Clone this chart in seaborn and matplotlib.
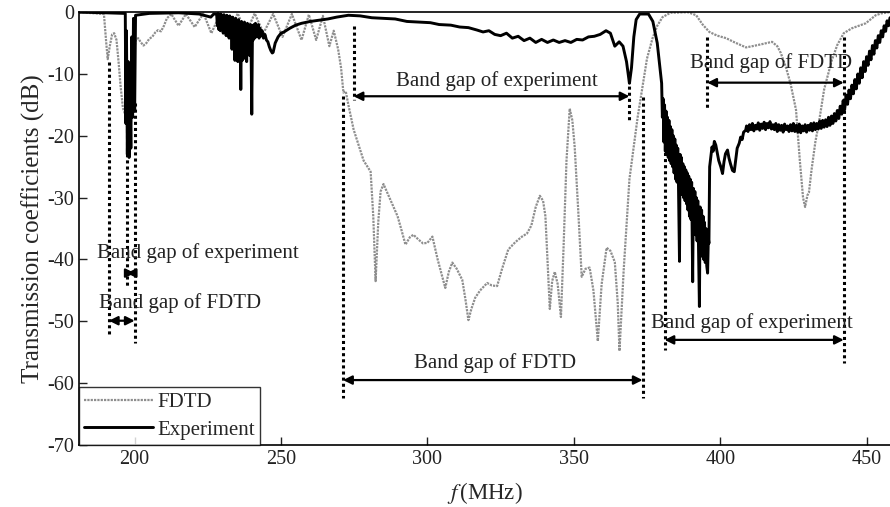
import numpy as np
import pandas as pd
import seaborn as sns
import matplotlib.pyplot as plt

# FDTD simulation (gray)
fdtd_f = [181, 189.5, 190.3, 190.8, 191.5, 192.3, 193, 193.8, 194.5, 195.2, 196, 196.8, 197.5,
          198.3, 199, 199.7, 200.3, 201.2, 202, 203, 204, 205, 206, 207, 208, 209, 210, 211,
          212.5, 215, 217.5, 220.5, 223.5, 226.2, 229.3, 232.3, 235.2, 238, 241, 244, 247.3,
          250.5, 253.7, 257, 259.5, 262, 264.3, 266.5, 268, 269.5, 270.5, 271.3, 272.1, 273,
          274.8, 276.5, 278.2, 280.6, 281.5, 282.3, 283.2, 284, 285, 287.5, 289.8, 291, 292.5,
          294, 295.2, 297, 298.5, 300, 301.7, 303.5, 306.1, 307.3, 308.5, 310, 311.9, 313, 314,
          315, 316.3, 318, 320.4, 322, 323.8, 325.5, 327.6, 330, 332.3, 334, 335.5, 337, 338.4,
          339.5, 340.3, 341, 341.8, 342.6, 343.5, 344.5, 345.6, 346.5, 347.5, 348.6, 349.5,
          350.3, 351.5, 352.7, 354, 355.4, 356.7, 358.2, 359.5, 361.2, 362.5, 364, 365, 365.6,
          367, 369, 371.8, 373.5, 375, 376.9, 378.5, 380.3, 383, 389, 391.8, 394, 396.3, 399,
          402, 405, 408.8, 411, 414, 417.7, 419.5, 420.7, 422.5, 424, 425.9, 427.2, 428.3, 429,
          429.8, 430.3, 431.2, 432.5, 433.7, 435.5, 438.1, 440, 442.2, 445, 449.7, 453.1, 455, 458]
fdtd_db = [0, -0.3, -5, -7.6, -5.5, -3.6, -3.4, -4.5, -8, -12, -15.5, -16.6, -17,
           -16, -12, -7, -4.6, -4.2, -4.8, -5.4, -5, -4.3, -4.0, -3.3, -2.9, -3.1, -2.2, -1.0,
           -0.3, -2.2, -0.3, -2.4, -0.2, -3.4, -0.2, -3.5, -0.2, -3.4, -0.2, -3.4, -0.3,
           -4.0, -0.3, -4.5, -0.4, -4.5, -0.6, -5.5, -3.0, -6, -9, -13, -12.8, -15,
           -19, -21.5, -24, -25.8, -33, -43.5, -34, -29, -27.8, -30.5, -33, -35, -37.6,
           -36.4, -36, -36.8, -37.4, -37.3, -36.3, -40, -44.6, -42, -40.5, -41.5, -43.3, -46.5, -49.8,
           -48, -46.2, -45, -43.8, -44.2, -44.3, -41.5, -38.4, -37.2, -36.3, -35.8, -34.5, -31.5, -29.7,
           -30.5, -33, -40, -48, -43.5, -42, -44, -49.3, -38, -24, -15.6, -17.5,
           -21.8, -32, -42.8, -41.5, -41.3, -45, -53.2, -44, -38.1, -38.6, -40.4, -47, -54.8,
           -42, -27, -17, -12, -7.5, -4.2, -2.2, -0.8, -0.1, 0, -0.5, -2, -3.2, -3.8,
           -4.2, -4.9, -5.7, -5.5, -5.2, -4.8, -5.5, -6.6, -9, -11.5, -15.8, -24, -30, -31.5,
           -29.6, -29.2, -25.5, -21, -17.9, -12.5, -7.8, -5.3, -3.4, -2.6, -1.8, -0.5, -0.2, 0]

# measured (black), in pieces
exp_f_low = [181, 190, 196.8, 197.0, 197.2, 197.5, 197.8, 198.1, 198.4, 198.7, 199.0, 199.3,
             199.6, 200.0, 200.3, 205, 215, 222, 226, 227]
exp_db_low = [0, -0.1, -0.2, -18, -3, -23, -8, -23.5, -12, -22, -4, -17,
              -1, -16, -0.5, -0.2, -0.1, -0.3, -0.8, -0.3]

exp_f_noise1 = [228.0, 228.25, 228.5, 228.75, 229.0, 229.25, 229.5, 229.75, 230.0, 230.25, 230.5,
                230.75, 231.0, 231.25, 231.5, 231.75, 232.0, 232.25, 232.5, 232.75, 233.0, 233.25,
                233.5, 233.75, 234.0, 234.25, 234.5, 234.75, 235.0, 235.25, 235.5, 235.75, 236.0,
                236.25, 236.5, 236.75, 237.0, 237.25, 237.5, 237.75, 238.0, 238.25, 238.5, 238.75,
                239.0, 239.25, 239.5, 239.75, 240.0, 240.25, 240.5, 240.75, 241.0, 241.25, 241.5,
                241.75, 242.0, 242.25, 242.5, 242.75, 243.0, 243.5, 244.0, 244.5, 245.0, 245.5,
                246.0, 246.5, 247.0, 247.3]
exp_db_noise1 = [-0.3, -2.2, -0.2, -2.8, -0.5, -3.0, -0.3, -2.6, -0.6, -3.4, -0.4,
                 -3.1, -0.8, -3.8, -0.5, -3.3, -0.9, -4.2, -0.6, -3.6, -1.0, -6.0,
                 -0.8, -5.5, -1.2, -7.8, -1.0, -7.2, -1.5, -8.0, -1.2, -7.5, -1.8,
                 -12.5, -1.5, -7.8, -2.0, -7.5, -1.6, -6.8, -2.2, -8.0, -1.8, -6.2,
                 -2.4, -7.0, -2.0, -5.5, -16.5, -2.2, -4.5, -2.0, -4.2, -1.8, -4.0,
                 -2.2, -3.8, -2.0, -4.2, -2.6, -3.9, -3.0, -4.2, -3.6, -4.5, -4.8,
                 -5.6, -6.2, -6.6, -6.5]

exp_f_mid = [248, 249, 250, 251, 253, 255, 257, 260, 263, 266, 269, 273, 277, 281, 285, 289,
             293, 297, 301, 304, 308, 311, 314, 317, 319, 321, 323, 325, 327, 329, 331, 333, 335,
             337, 339, 341, 343, 345, 347, 349, 351, 353, 355, 357, 359, 361, 362.5, 364, 365.5,
             366.8, 368, 369, 369.7, 370.5, 371.3, 372.5, 375.5, 377, 378.5]
exp_db_mid = [-5, -4, -3.4, -3.2, -2.6, -2.1, -1.8, -1.5, -1.3, -1.1, -0.8, -0.5, -0.6, -0.9, -1.0, -1.1,
              -1.5, -1.6, -1.7, -2.0, -2.1, -2.4, -2.5, -2.9, -3.2, -3.0, -3.6, -3.8, -3.4, -4.2, -3.9, -4.6, -4.2,
              -4.9, -4.4, -4.9, -4.5, -4.9, -4.6, -4.9, -4.4, -4.5, -4.0, -3.9, -3.6, -3.0, -3.4, -5.5, -4.8,
              -5.5, -8, -11.5, -9, -4, -1.2, -0.3, -0.3, -1.5, -5]

exp_f_noise2 = [380.0, 380.25, 380.5, 380.75, 381.0, 381.25, 381.5, 381.75, 382.0, 382.25, 382.5,
                382.75, 383.0, 383.25, 383.5, 383.75, 384.0, 384.25, 384.5, 384.75, 385.0, 385.25,
                385.5, 385.75, 386.1, 386.3, 386.5, 386.75, 387.0, 387.25, 387.5, 387.75, 388.0,
                388.25, 388.5, 388.75, 389.0, 389.25, 389.5, 389.75, 390.0, 390.25, 390.6, 390.85,
                391.1, 391.35, 391.6, 391.85, 392.1, 392.35, 392.6, 392.9, 393.15, 393.4, 393.65,
                393.9, 394.15, 394.4, 394.65, 394.9, 395.15, 395.4, 395.7, 395.95, 396.15, 396.4,
                396.8, 397.2, 397.6, 398.0, 398.5, 399.0, 399.5, 400.2, 400.8, 401.3, 401.8, 402.5,
                403.0, 403.5, 404.2, 404.8, 405.3, 405.8, 406.5, 407.0, 407.5, 408.0, 408.7]
exp_db_noise2 = [-11.5, -17, -14, -21, -15, -22.5, -16, -23, -17, -23.5, -17.5,
                 -24, -18.5, -24.5, -19, -25, -20, -26, -20.5, -27, -21.5, -27.5,
                 -22, -28, -40.3, -23, -28.5, -23.5, -29.5, -24.5, -30, -25, -30.5,
                 -25.5, -31, -26, -32, -26.5, -33, -27, -33.5, -27.5, -43.6, -28.5,
                 -35, -29, -36, -30, -37, -30.5, -38, -47.6, -31.5, -39, -32,
                 -39.5, -33, -40, -34, -40.5, -35, -41, -42.2, -36.5, -37.4, -25,
                 -23.4, -21.8, -22.5, -20.9, -21.5, -22.8, -24, -25, -26.1, -24.2, -22.9, -22.3,
                 -23.6, -24.5, -25.6, -25.8, -23.9, -22, -21.2, -20.2, -20.6, -19.4, -19.1]

exp_f_high = [409, 409.5, 410, 410.5, 411, 411.5, 412, 412.5, 413, 413.5, 414, 414.5, 415, 415.5,
              416, 416.5, 417, 417.5, 418, 418.5, 419, 419.5, 420, 420.5, 421, 421.5, 422, 422.5,
              423, 423.5, 424, 424.5, 425, 425.5, 426, 426.5, 427, 427.5, 428, 428.5, 429, 429.5,
              430, 430.5, 431, 431.5, 432, 432.5, 433, 433.5, 434, 434.5, 435, 435.5, 436, 436.5,
              437, 437.5, 438, 438.5, 439, 439.5, 440, 440.5, 441, 441.5, 442, 442.5, 443, 443.5,
              444, 444.5, 445, 445.5, 446, 446.5, 447, 447.5, 448, 448.5, 449, 449.5, 450, 450.5,
              451, 451.5, 452, 452.5, 453, 453.5, 454, 454.5, 455, 455.5, 456, 456.5, 457, 457.5, 458]
exp_db_high = [-18.4, -19.3, -18.2, -19.0, -18.0, -19.2, -18.3, -18.9, -17.9, -19.1, -18.1, -18.8, -17.8, -19.0,
               -18.0, -18.7, -17.7, -18.9, -18.2, -19.0, -18.0, -19.3, -18.2, -19.1, -18.3, -19.4, -18.1, -19.0,
               -18.4, -19.3, -18.2, -19.2, -18.0, -19.3, -18.3, -19.4, -18.1, -19.5, -18.4, -19.2, -18.2, -19.4,
               -18.3, -19.1, -18.0, -19.2, -17.9, -19.0, -18.0, -18.9, -17.6, -18.8, -17.5, -18.6, -17.4, -18.5,
               -17.0, -18.3, -16.8, -18.0, -16.4, -17.6, -15.9, -17.2, -15.2, -16.5, -14.3, -15.8, -13.4, -14.9,
               -12.6, -14.0, -11.8, -13.2, -10.9, -12.4, -10.0, -11.5, -9.0, -10.6, -8.0, -9.6, -7.2, -8.6,
               -6.3, -7.7, -5.4, -6.8, -4.6, -5.8, -3.8, -4.9, -3.0, -4.0, -2.2, -3.1, -1.4, -2.2, -0.9]

# band gap markers: arrow from gap_lo to gap_hi at gap_y
gap_lo = [191.2, 197.3, 274.8, 271.2, 395.6, 381.0]
gap_hi = [200.0, 200.0, 369.0, 373.5, 442.2, 442.2]
gap_y = [-49.9, -42.2, -13.6, -59.5, -11.4, -53.0]
gap_text = ['Band gap of FDTD', 'Band gap of experiment', 'Band gap of experiment',
            'Band gap of FDTD', 'Band gap of FDTD', 'Band gap of experiment']
text_x = [187.8, 187.1, 323.7, 323.1, 417.4, 410.9]
text_y = [-47.0, -39.0, -11.2, -56.7, -8.2, -50.3]
text_ha = ['left', 'left', 'center', 'center', 'center', 'center']

# dotted guide lines: x, top, bottom
guide_x = [191.2, 197.3, 200.0, 274.8, 369.0, 271.2, 373.5, 395.6, 381.0, 442.2]
guide_top = [-8, -16, -14.7, -2.2, -11, -13.5, -13.7, -4, -18.8, -4]
guide_bot = [-52.5, -44.6, -53.5, -14.2, -17.4, -62.4, -62.4, -15.5, -54.6, -56.7]

exp_f = exp_f_low + exp_f_noise1 + exp_f_mid + exp_f_noise2 + exp_f_high
exp_db = exp_db_low + exp_db_noise1 + exp_db_mid + exp_db_noise2 + exp_db_high

sns.set_theme(style='ticks')
plt.rcParams['font.family'] = ['Liberation Serif', 'DejaVu Serif']
plt.rcParams['mathtext.fontset'] = 'stix'
plt.rcParams['axes.unicode_minus'] = False
plt.rcParams['xtick.direction'] = 'in'
plt.rcParams['ytick.direction'] = 'in'

fig = plt.figure(figsize=(8.9, 5.07), dpi=100)
ax = fig.add_axes([0.0888, 0.1223, 0.9112, 0.8537])

df_fdtd = pd.DataFrame({'f': fdtd_f, 'db': fdtd_db})
df_exp = pd.DataFrame({'f': exp_f, 'db': exp_db})
sns.lineplot(data=df_fdtd, x='f', y='db', ax=ax, estimator=None, sort=False, color='#8e8e8e',
             lw=1.6, linestyle=(0, (1, 0.5)), label='FDTD', zorder=2)
sns.lineplot(data=df_exp, x='f', y='db', ax=ax, estimator=None, sort=False, color='black',
             lw=2.1, label='Experiment', zorder=3)

for x, t, b in zip(guide_x, guide_top, guide_bot):
    ax.plot([x, x], [t, b], color='black', lw=2.2, linestyle=(0, (1, 1)), zorder=4)

for lo, hi, y in zip(gap_lo, gap_hi, gap_y):
    ax.annotate('', xy=(hi, y), xytext=(lo, y),
                arrowprops=dict(arrowstyle='<|-|>', color='black', lw=1.6,
                                mutation_scale=13, shrinkA=0, shrinkB=0), zorder=5)

for s, x, y, ha in zip(gap_text, text_x, text_y, text_ha):
    ax.text(x, y, s, ha=ha, va='center', fontsize=15, color='#222222', zorder=6)

ax.set_xlim(181, 458)
ax.set_ylim(-70, 0)
ax.set_xticks([200, 250, 300, 350, 400, 450])
ax.set_yticks([0, -10, -20, -30, -40, -50, -60, -70])
ax.tick_params(labelsize=14.5, length=6, width=1, colors='#222222')
ax.set_xlabel(r'$f\,$(MHz)', fontsize=16.5, labelpad=8)
ax.set_ylabel('Transmission coefficients (dB)', fontsize=18, labelpad=2)
ax.spines['right'].set_visible(False)
for sp in ['left', 'bottom', 'top']:
    ax.spines[sp].set_linewidth(1.2)
    ax.spines[sp].set_color('black')

leg = ax.legend(loc='lower left', borderaxespad=0, frameon=True, fancybox=False,
                edgecolor='black', fontsize=15, handlelength=3.3, handletextpad=0.2,
                labelspacing=0.4, borderpad=0.25)
leg.get_frame().set_linewidth(1.0)

fig.savefig('out.png', dpi=100)
